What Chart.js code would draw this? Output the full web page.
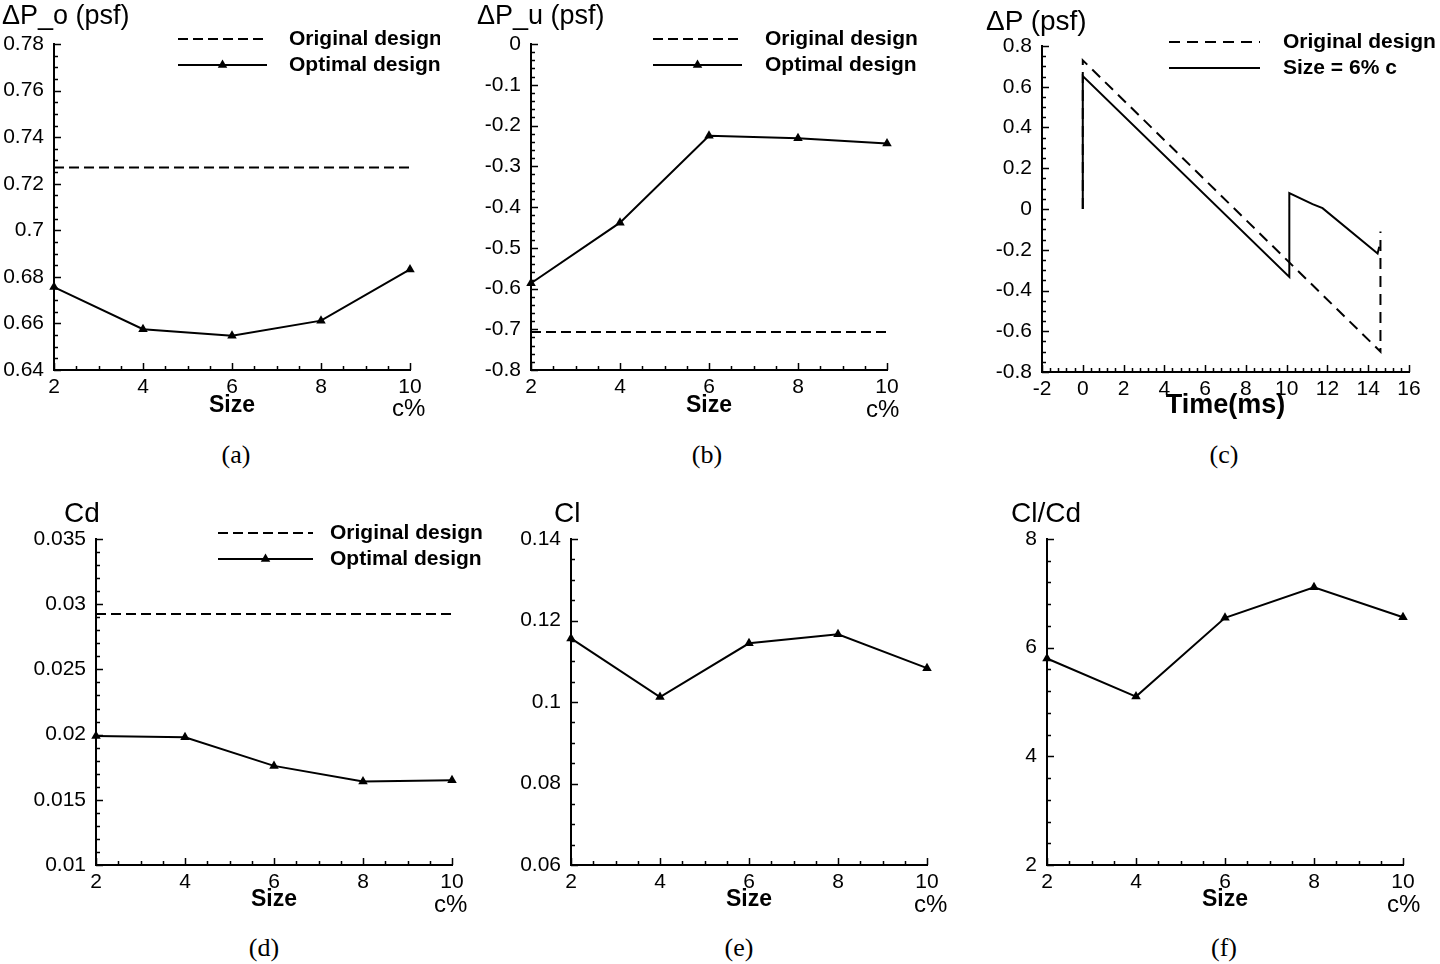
<!DOCTYPE html>
<html>
<head>
<meta charset="utf-8">
<script src="https://cdn.jsdelivr.net/npm/chart.js@4.4.1/dist/chart.umd.min.js"></script>
<style>
  body { margin: 0; background: #fff; }
  #page { position: relative; width: 1440px; height: 964px; overflow: hidden; background: #fff; }
  canvas { position: absolute; }
  .lbl { position: absolute; font-family: "Liberation Sans", Arial, sans-serif; color: #000; white-space: nowrap; line-height: 30px; }
  .cap { position: absolute; width: 100px; text-align: center; font-family: "Liberation Serif", "Times New Roman", serif; font-size: 26px; line-height: 30px; color: #000; }
</style>
</head>
<body>
<div id="page">
  <canvas id="chartA"></canvas>
  <canvas id="chartB"></canvas>
  <canvas id="chartC"></canvas>
  <canvas id="chartD"></canvas>
  <canvas id="chartE"></canvas>
  <canvas id="chartF"></canvas>

  <div class="lbl" style="left:2px;top:0px;font-size:27px;">ΔP_o (psf)</div>
  <div class="lbl" style="left:477px;top:0px;font-size:27px;">ΔP_u (psf)</div>
  <div class="lbl" style="left:986px;top:6px;font-size:28px;">ΔP (psf)</div>
  <div class="lbl" style="left:64px;top:498px;font-size:28px;">Cd</div>
  <div class="lbl" style="left:554px;top:498px;font-size:28px;">Cl</div>
  <div class="lbl" style="left:1011px;top:498px;font-size:28px;">Cl/Cd</div>

  <div class="lbl" style="left:392px;top:393px;font-size:24px;">c%</div>
  <div class="lbl" style="left:866px;top:394px;font-size:24px;">c%</div>
  <div class="lbl" style="left:434px;top:889px;font-size:24px;">c%</div>
  <div class="lbl" style="left:914px;top:889px;font-size:24px;">c%</div>
  <div class="lbl" style="left:1387px;top:889px;font-size:24px;">c%</div>

  <div class="cap" style="left:186px;top:440px;">(a)</div>
  <div class="cap" style="left:657px;top:440px;">(b)</div>
  <div class="cap" style="left:1174px;top:440px;">(c)</div>
  <div class="cap" style="left:214px;top:933px;">(d)</div>
  <div class="cap" style="left:689px;top:933px;">(e)</div>
  <div class="cap" style="left:1174px;top:933px;">(f)</div>
</div>
<script>
// Data
const sizes = [2, 4, 6, 8, 10];

const dpoOriginal = [0.727, 0.727, 0.727, 0.727, 0.727];
const dpoOptimal = [0.6756, 0.6575, 0.6547, 0.6612, 0.6832];

const dpuOriginal = [-0.707, -0.707, -0.707, -0.707, -0.707];
const dpuOptimal = [-0.587, -0.4385, -0.225, -0.231, -0.244];

const timeOriginal = [0, 0, 14.6, 14.6];
const dpOriginal = [0, 0.73, -0.70, -0.11];
const timeSize6 = [0, 0, 10.13, 10.13, 11.27, 11.76, 14.46, 14.54];
const dpSize6 = [0, 0.652, -0.333, 0.078, 0.024, 0.004, -0.218, -0.185];

const cdOriginal = [0.02925, 0.02925, 0.02925, 0.02925, 0.02925];
const cdOptimal = [0.0199, 0.0198, 0.0176, 0.0164, 0.0165];

const clOptimal = [0.1156, 0.1012, 0.1144, 0.1166, 0.1083];

const clcdOptimal = [5.80, 5.10, 6.55, 7.11, 6.56];

const legendOriginal = 'Original design';
const legendOptimal = 'Optimal design';
const legendSize6 = 'Size = 6% c';

Chart.defaults.font.family = '"Liberation Sans", Arial, sans-serif';
Chart.defaults.color = '#000';

function pts(xs, ys) {
    return xs.map((x, i) => ({ x: x, y: ys[i] }));
}

function fmt(v) {
    return String(parseFloat(Number(v).toFixed(6)));
}

// tick marks drawn inward from the axes, majors and minors
const innerTicks = {
    id: 'innerTicks',
    afterDraw(chart, args, opts) {
        const { ctx, chartArea } = chart;
        const xs = chart.scales.x, ys = chart.scales.y;
        ctx.save();
        ctx.strokeStyle = '#000';
        ctx.lineWidth = 1.5;
        ctx.beginPath();
        const isMajor = (v, step, min) => Math.abs(((v - min) / step) - Math.round((v - min) / step)) < 1e-6;
        let n = Math.round((xs.max - xs.min) / opts.xMinor);
        for (let i = 0; i <= n; i++) {
            const v = xs.min + i * opts.xMinor;
            const len = isMajor(v, opts.xMajor, xs.min) ? 7 : 4;
            const px = Math.round(xs.getPixelForValue(v)) + 0.5;
            ctx.moveTo(px, chartArea.bottom);
            ctx.lineTo(px, chartArea.bottom - len);
        }
        n = Math.round((ys.max - ys.min) / opts.yMinor);
        for (let i = 0; i <= n; i++) {
            const v = ys.min + i * opts.yMinor;
            const len = isMajor(v, opts.yMajor, ys.min) ? 7 : 4;
            const py = Math.round(ys.getPixelForValue(v)) + 0.5;
            ctx.moveTo(chartArea.left, py);
            ctx.lineTo(chartArea.left + len, py);
        }
        ctx.stroke();
        ctx.restore();
    }
};

function triangle(ctx, x, y, r) {
    ctx.beginPath();
    ctx.moveTo(x, y - r);
    ctx.lineTo(x + r * 0.866, y + r * 0.5);
    ctx.lineTo(x - r * 0.866, y + r * 0.5);
    ctx.closePath();
    ctx.fill();
}

// legend drawn as line samples like the original plotting package
const lineLegend = {
    id: 'lineLegend',
    afterDraw(chart, args, opts) {
        if (!opts.show) return;
        const ctx = chart.ctx;
        chart.data.datasets.forEach((ds, i) => {
            const y = opts.y + i * opts.gap;
            ctx.save();
            ctx.strokeStyle = ds.borderColor;
            ctx.lineWidth = ds.borderWidth;
            ctx.setLineDash(ds.borderDash || []);
            ctx.beginPath();
            ctx.moveTo(opts.x1, y);
            ctx.lineTo(opts.x2, y);
            ctx.stroke();
            ctx.setLineDash([]);
            if (ds.pointRadius > 0) {
                ctx.fillStyle = '#000';
                triangle(ctx, (opts.x1 + opts.x2) / 2, y, ds.pointRadius);
            }
            ctx.fillStyle = '#000';
            ctx.font = 'bold 21px "Liberation Sans", Arial, sans-serif';
            ctx.textBaseline = 'middle';
            ctx.textAlign = 'left';
            ctx.fillText(ds.label, opts.textX, y);
            ctx.restore();
        });
    }
};

function makeChart(id, p) {
    const canvas = document.getElementById(id);
    const left = p.L - p.yW;
    const top = p.T - 30;
    const width = p.R + 30 - left;
    const height = p.B + p.xH - top;
    canvas.width = width;
    canvas.height = height;
    canvas.style.left = left + 'px';
    canvas.style.top = top + 'px';
    canvas.style.width = width + 'px';
    canvas.style.height = height + 'px';

    const legend = p.legend
        ? { show: true, x1: p.legend.x1 - left, x2: p.legend.x2 - left, textX: p.legend.textX - left, y: p.legend.y - top, gap: 26 }
        : { show: false };

    return new Chart(canvas, {
        type: 'line',
        data: { datasets: p.datasets },
        options: {
            responsive: false,
            animation: false,
            devicePixelRatio: 1,
            layout: { padding: { left: 0, top: 30, right: 30, bottom: 0 } },
            plugins: {
                legend: { display: false },
                tooltip: { enabled: false },
                innerTicks: p.ticks,
                lineLegend: legend
            },
            scales: {
                x: {
                    type: 'linear',
                    min: p.xMin, max: p.xMax,
                    afterFit: s => { s.height = p.xH; },
                    grid: { display: false, drawTicks: false },
                    border: { display: true, color: '#000', width: 2 },
                    ticks: { stepSize: p.ticks.xMajor, padding: 5, maxRotation: 0, autoSkip: false, font: { size: 21 }, callback: fmt },
                    title: {
                        display: true, text: p.xTitle,
                        font: { size: p.xTitleSize, weight: 'bold' },
                        padding: { top: 0, bottom: p.xTitlePad }
                    }
                },
                y: {
                    type: 'linear',
                    min: p.yMin, max: p.yMax,
                    afterFit: s => { s.width = p.yW; },
                    grid: { display: false, drawTicks: false },
                    border: { display: true, color: '#000', width: 2 },
                    ticks: { stepSize: p.ticks.yMajor, padding: 10, autoSkip: false, font: { size: 21 }, callback: fmt }
                }
            }
        },
        plugins: [innerTicks, lineLegend]
    });
}

const dashedStyle = {
    borderColor: '#000', borderWidth: 2, borderDash: [10, 5],
    pointRadius: 0, tension: 0, fill: false, clip: false
};
const markerStyle = {
    borderColor: '#000', backgroundColor: '#000', borderWidth: 2,
    pointStyle: 'triangle', pointRadius: 5.5, pointBackgroundColor: '#000', pointBorderWidth: 0,
    tension: 0, fill: false, clip: false
};
const solidStyle = {
    borderColor: '#000', borderWidth: 2, pointRadius: 0, tension: 0, fill: false, clip: false
};

// (a)
makeChart('chartA', {
    L: 54, T: 44, R: 410, B: 370, yW: 54, xH: 50,
    xMin: 2, xMax: 10, yMin: 0.64, yMax: 0.78,
    ticks: { xMajor: 2, xMinor: 0.5, yMajor: 0.02, yMinor: 0.005 },
    xTitle: 'Size', xTitleSize: 23, xTitlePad: 1,
    legend: { x1: 178, x2: 267, textX: 289, y: 39 },
    datasets: [
        Object.assign({ label: legendOriginal, data: pts(sizes, dpoOriginal) }, dashedStyle),
        Object.assign({ label: legendOptimal, data: pts(sizes, dpoOptimal) }, markerStyle)
    ]
});

// (b)
makeChart('chartB', {
    L: 531, T: 44, R: 887, B: 370, yW: 70, xH: 50,
    xMin: 2, xMax: 10, yMin: -0.8, yMax: 0,
    ticks: { xMajor: 2, xMinor: 0.5, yMajor: 0.1, yMinor: 0.02 },
    xTitle: 'Size', xTitleSize: 23, xTitlePad: 1,
    legend: { x1: 653, x2: 742, textX: 765, y: 39 },
    datasets: [
        Object.assign({ label: legendOriginal, data: pts(sizes, dpuOriginal) }, dashedStyle),
        Object.assign({ label: legendOptimal, data: pts(sizes, dpuOptimal) }, markerStyle)
    ]
});

// (c)
makeChart('chartC', {
    L: 1042, T: 46, R: 1409, B: 372, yW: 70, xH: 52,
    xMin: -2, xMax: 16, yMin: -0.8, yMax: 0.8,
    ticks: { xMajor: 2, xMinor: 0.4, yMajor: 0.2, yMinor: 0.05 },
    xTitle: 'Time(ms)', xTitleSize: 27, xTitlePad: 2,
    legend: { x1: 1169, x2: 1260, textX: 1283, y: 42 },
    datasets: [
        Object.assign({ label: legendOriginal, data: pts(timeOriginal, dpOriginal) }, dashedStyle, { borderDash: [11, 7] }),
        Object.assign({ label: legendSize6, data: pts(timeSize6, dpSize6) }, solidStyle)
    ]
});

// (d)
makeChart('chartD', {
    L: 96, T: 539, R: 452, B: 865, yW: 75, xH: 50,
    xMin: 2, xMax: 10, yMin: 0.01, yMax: 0.035,
    ticks: { xMajor: 2, xMinor: 0.5, yMajor: 0.005, yMinor: 0.001 },
    xTitle: 'Size', xTitleSize: 23, xTitlePad: 2,
    legend: { x1: 218, x2: 313, textX: 330, y: 533 },
    datasets: [
        Object.assign({ label: legendOriginal, data: pts(sizes, cdOriginal) }, dashedStyle),
        Object.assign({ label: legendOptimal, data: pts(sizes, cdOptimal) }, markerStyle)
    ]
});

// (e)
makeChart('chartE', {
    L: 571, T: 539, R: 927, B: 865, yW: 75, xH: 50,
    xMin: 2, xMax: 10, yMin: 0.06, yMax: 0.14,
    ticks: { xMajor: 2, xMinor: 0.5, yMajor: 0.02, yMinor: 0.005 },
    xTitle: 'Size', xTitleSize: 23, xTitlePad: 2,
    datasets: [
        Object.assign({ label: legendOptimal, data: pts(sizes, clOptimal) }, markerStyle)
    ]
});

// (f)
makeChart('chartF', {
    L: 1047, T: 539, R: 1403, B: 865, yW: 75, xH: 50,
    xMin: 2, xMax: 10, yMin: 2, yMax: 8,
    ticks: { xMajor: 2, xMinor: 0.5, yMajor: 2, yMinor: 0.4 },
    xTitle: 'Size', xTitleSize: 23, xTitlePad: 2,
    datasets: [
        Object.assign({ label: legendOptimal, data: pts(sizes, clcdOptimal) }, markerStyle)
    ]
});
</script>
</body>
</html>
